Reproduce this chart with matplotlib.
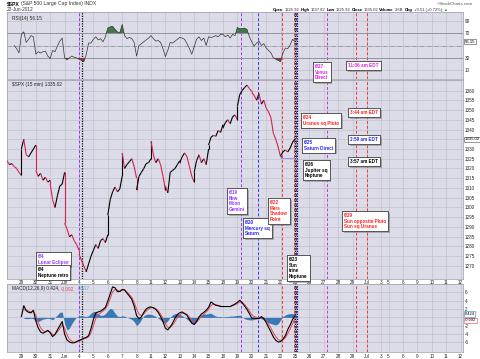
import numpy as np
import matplotlib
matplotlib.use('Agg')
import matplotlib.pyplot as plt
from matplotlib.collections import LineCollection
from matplotlib import patheffects

plt.rcParams['font.family'] = ['Liberation Sans', 'DejaVu Sans']

# trading sessions on the time axis (Jul 3 was a half day)
sessions = ['2012-05-25', '2012-05-29', '2012-05-30', '2012-05-31', '2012-06-01',
            '2012-06-04', '2012-06-05', '2012-06-06', '2012-06-07', '2012-06-08',
            '2012-06-11', '2012-06-12', '2012-06-13', '2012-06-14', '2012-06-15',
            '2012-06-18', '2012-06-19', '2012-06-20', '2012-06-21', '2012-06-22',
            '2012-06-25', '2012-06-26', '2012-06-27', '2012-06-28', '2012-06-29',
            '2012-07-02', '2012-07-03', '2012-07-05', '2012-07-06', '2012-07-09',
            '2012-07-10', '2012-07-11', '2012-07-12']
half_days = ['2012-07-03']

# $SPX 15 min, read every ~65 minutes (open ... close) for each session
spx_close = [
    [1324, 1322, 1322.5, 1321, 1320, 1318, 1316.5],      # May 25
    [1330, 1335, 1327, 1326, 1328, 1330, 1332],          # May 29
    [1319, 1316, 1317.5, 1314, 1315.5, 1313, 1314],      # May 30
    [1312, 1304, 1300, 1306, 1311, 1312, 1318],          # May 31
    [1292, 1289, 1285, 1286, 1283, 1281, 1278],          # Jun 1
    [1276, 1273, 1270, 1267, 1271, 1275, 1278],          # Jun 4
    [1278, 1281, 1279, 1283, 1284, 1282, 1286],          # Jun 5
    [1296, 1304, 1308, 1310.5, 1308, 1309.5, 1316],      # Jun 6
    [1328, 1320, 1322, 1323.5, 1325, 1321, 1315],        # Jun 7
    [1309, 1316, 1318, 1320, 1322.5, 1323, 1325],        # Jun 8
    [1334, 1327, 1323, 1325, 1322, 1316, 1309],          # Jun 11
    [1311, 1307.5, 1318, 1319, 1320, 1322, 1324],        # Jun 12
    [1323, 1326, 1328, 1326, 1321, 1316, 1313],          # Jun 13
    [1318, 1324, 1327, 1323, 1325, 1322, 1330],          # Jun 14
    [1332, 1336, 1337, 1336.5, 1339.5, 1338.5, 1342.5],  # Jun 15
    [1341, 1343.5, 1345, 1343, 1346.5, 1347.5, 1345],    # Jun 18
    [1352, 1358, 1360, 1361.5, 1362.8, 1361, 1359.5],    # Jun 19
    [1359, 1357.5, 1355, 1358.5, 1353, 1355, 1351],      # Jun 20
    [1351, 1349, 1346, 1338, 1335, 1331, 1326],          # Jun 21
    [1326.5, 1328.5, 1329.5, 1328.5, 1330.5, 1333.5, 1335.02],  # Jun 22
]
jun21_low = 1325.5

# RSI(14), six readings per session
rsi = [
    [None, None, None, 50, 45, 38], [68, 72, 55, 60, 66, 64], [36, 40, 38, 40, 41, 33],
    [29, 42, 40, 49, 57, 62], [30, 27, 30, 33, 31, 30], [28, 26, 24, 35, 54, 54],
    [60, 64, 59, 61, 56, 64], [78, 80, 81, 76, 72, 70], [84, 66, 61, 63, 61, 55],
    [33, 50, 53, 56, 59, 62], [66, 61, 57, 58, 55, 45], [32, 42, 55, 54, 57, 60],
    [63, 62, 60, 53, 45, 36], [48, 60, 64, 58, 62, 50], [64, 63, 64, 66, 64, 68],
    [68, 64, 67, 62, 68, 66], [79, 77, 77, 78, 76, 64], [56, 49, 54, 57, 50, 53],
    [46, 42, 38, 30, 28, 26], [24, 38, 46, 45, 51, 60],
]
rsi_last = 56.15

# MACD(12,26,9): macd line, signal line, histogram
macd = [
    [None] * 6, [0.2, 2.8, 1.6, 1.2, 1.1, 1.7], [-0.8, -2.5, -3.5, -3.8, -3.5, -3.1],
    [-3.7, -4.6, -4.1, -3.0, -2.0, -1.0], [-4.0, -5.4, -5.9, -6.1, -6.1, -5.8],
    [-5.5, -5.3, -5.0, -4.8, -4.4, -2.7], [-0.5, 1.1, 1.3, 1.5, 1.9, 2.4],
    [3.9, 5.6, 7.3, 7.1, 6.2, 6.2], [6.7, 6.6, 5.8, 5.1, 4.3, 2.7],
    [0.4, -0.3, 0.1, 1.2, 2.0, 2.4], [2.5, 2.3, 1.9, 1.2, 0.2, -1.0],
    [-2.6, -3.0, -2.3, -1.4, -0.2, 0.7], [1.1, 1.3, 0.9, 0.5, -0.5, -1.4],
    [-1.7, -1.0, 0.1, 0.8, 1.2, 1.7], [2.4, 3.7, 3.3, 2.9, 2.8, 2.6],
    [2.6, 2.6, 2.6, 2.6, 2.9, 3.2], [3.6, 4.1, 3.5, 2.7, 1.9, 0.9],
    [-0.2, -0.2, -0.3, -0.3, 0.2, -0.3], [-1.2, -2.4, -3.5, -4.7, -5.5, -5.9],
    [-5.8, -5.2, -4.4, -2.9, -1.8, -0.5],
]
signal = [
    [None] * 6, [None, 1.8, 1.8, 1.5, 1.3, 1.4], [0.5, -1.2, -2.5, -3.2, -3.4, -3.3],
    [-3.5, -4.1, -4.1, -3.5, -2.7, -1.8], [-2.6, -4.2, -5.2, -5.7, -6.0, -5.9],
    [-5.7, -5.5, -5.2, -5.0, -4.7, -3.7], [-2.0, -0.3, 0.6, 1.1, 1.5, 2.0],
    [3.0, 4.5, 6.1, 6.7, 6.5, 6.3], [6.5, 6.5, 6.1, 5.5, 4.8, 3.6],
    [2.0, 0.8, 0.4, 0.8, 1.5, 2.0], [2.3, 2.3, 2.1, 1.6, 0.8, -0.2],
    [-1.5, -2.4, -2.4, -1.9, -1.0, -0.1], [0.6, 1.0, 1.0, 0.7, 0.1, -0.7],
    [-1.2, -1.1, -0.5, 0.3, 0.8, 1.3], [1.9, 2.9, 3.1, 3.0, 2.9, 2.7],
    [2.6, 2.6, 2.6, 2.6, 2.8, 3.0], [3.3, 3.7, 3.6, 3.1, 2.4, 1.6],
    [0.6, 0.2, 0.0, -0.2, 0.0, -0.1], [-0.7, -1.6, -2.6, -3.7, -4.6, -5.3],
    [-5.6, -5.4, -4.9, -3.9, -2.8, -1.5],
]
hist = [
    [None] * 6, [None, -0.2, -0.3, -0.3, -0.2, -0.3], [-0.9, -1.0, -0.7, -0.4, -0.3, -0.2],
    [-0.3, -0.6, 0.0, 0.6, 1.2, 1.3], [-1.5, -3.0, -2.6, -1.5, -0.6, 0.1],
    [0.3, 0.4, 0.3, 0.2, 0.4, 1.0], [1.4, 1.3, 0.8, 0.5, 0.5, 0.9],
    [1.6, 2.2, 1.9, 1.0, 0.3, 0.2], [0.4, 0.3, 0.0, -0.2, -0.5, -1.0],
    [-2.0, -1.4, -0.5, 0.4, 0.7, 0.8], [0.7, 0.5, 0.2, -0.2, -0.6, -1.2],
    [-1.4, -0.8, 0.1, 0.6, 0.9, 1.0], [0.7, 0.4, 0.0, -0.4, -0.9, -1.4],
    [-1.6, -0.9, 0.2, 0.7, 0.8, 0.8], [0.9, 1.0, 0.6, 0.3, 0.2, 0.2],
    [0.1, 0.2, 0.2, 0.3, 0.3, 0.4], [0.5, 0.5, 0.1, -0.3, -0.5, -0.6],
    [-0.6, -0.5, -0.3, -0.2, -0.3, -0.6], [-1.0, -1.3, -1.5, -1.7, -1.8, -1.5],
    [-0.6, 0.2, 0.6, 0.8, 0.9, 0.9],
]
macd_last, signal_last, hist_last = 0.42, -0.3, 0.8

# astro events drawn as vertical lines (session time where each line sits)
events = [
    ('2012-06-04 09:00', '#9933ff', 'dash'),   # 6/4 lunar eclipse
    ('2012-06-04 11:00', 'black', 'dot'),      # 6/4 Neptune retro
    ('2012-06-19 11:02', '#9933ff', 'dash'),   # 6/19 new moon
    ('2012-06-20 12:18', '#3333ff', 'dash'),   # 6/20 Mercury sq Saturn
    ('2012-06-22 10:09', '#ff3333', 'dash'),   # 6/22 Mars shadow point
    ('2012-06-22 15:28', '#ff3333', 'dash'),   # 6/24 Uranus sq Pluto
    ('2012-06-22 15:55', 'black', 'dot'),      # 6/23 Sun trine Neptune
    ('2012-06-25 09:48', '#3333ff', 'dash'),   # 6/25 Saturn direct
    ('2012-06-25 10:25', 'black', 'dot'),      # 6/26 Jupiter sq Neptune
    ('2012-06-27 11:06', '#cc33cc', 'dash'),   # 6/27 Venus direct
    ('2012-06-29 11:03', '#ff3333', 'dash'),   # 6/29 Sun opposite Pluto
    ('2012-06-29 15:50', '#ff3333', 'dash'),   # 6/29 Sun sq Uranus
]

# ---------------------------------------------------------------
starts = []
pos = 0.0
for s in sessions:
    starts.append(pos)
    pos += 0.5 if s in half_days else 1.0
x_end = starts[-1] + 0.17


def chart_x(stamp):
    d, t = stamp.split()
    i = sessions.index(d)
    hh, mm = map(int, t.split(':'))
    length = 0.5 if d in half_days else 1.0
    frac = min(max((hh * 60 + mm - 570) / 390.0 / length, 0), 1)
    return starts[i] + frac * length


def flat(rows, last, per):
    xs, ys = [], []
    for d, row in enumerate(rows):
        for k, v in enumerate(row):
            xs.append(starts[d] + k / per)
            ys.append(np.nan if v is None else v)
    if last is not None:
        xs.append(starts[len(rows)])
        ys.append(last)
    return np.array(xs), np.array(ys, dtype=float)


px_x, px_y = flat(spx_close, None, 6.0)
rsi_x, rsi_y = flat(rsi, rsi_last, 6.0)
m_x, m_y = flat(macd, macd_last, 6.0)
s_x, s_y = flat(signal, signal_last, 6.0)
h_x, h_y = flat(hist, hist_last, 6.0)

tick_pos, tick_lab = [], []
for i, s in enumerate(sessions[1:], start=1):
    mon, day = s[5:7], int(s[8:])
    prev_mon = sessions[i - 1][5:7]
    tick_pos.append(starts[i])
    if mon != prev_mon:
        tick_lab.append({'06': 'Jun', '07': 'Jul'}[mon])
    else:
        tick_lab.append(str(day))

W, H = 480, 359
fig = plt.figure(figsize=(4.8, 3.59), dpi=100)
fig.patch.set_facecolor('white')


def rect(top, bottom):
    return [7 / W, 1 - bottom / H, 456 / W, (bottom - top) / H]


ax_rsi = fig.add_axes(rect(12, 79))
ax_px = fig.add_axes(rect(80, 279))
ax_macd = fig.add_axes(rect(284, 352))

for ax in (ax_rsi, ax_px, ax_macd):
    ax.set_facecolor('#dcdce8')
    ax.set_xlim(0, x_end)
    ax.set_xticks(tick_pos)
    ax.set_xticklabels(tick_lab)
    ax.yaxis.tick_right()
    ax.tick_params(length=0, labelsize=3.3, pad=1.2, colors='#222222')
    ax.grid(color='#c2c2ce', lw=0.5)
    ax.set_axisbelow(True)
    for sp in ax.spines.values():
        sp.set_color('#9a9aa8')
        sp.set_linewidth(0.5)
ax_rsi.tick_params(labelbottom=False)

# event lines
styles = {'dash': (0, (3, 2)), 'dot': (0, (1, 1))}
for stamp, c, st in events:
    for ax in (ax_rsi, ax_px, ax_macd):
        ax.axvline(chart_x(stamp), color=c, ls=styles[st],
                   lw=0.9 if st == 'dot' else 0.7, zorder=2)

box_kw = dict(boxstyle='square,pad=0.15', fc='white', lw=0.4)

# RSI panel
ax_rsi.set_ylim(-4, 104)
ax_rsi.set_yticks([10, 30, 50, 70, 90])
ax_rsi.set_yticklabels(['10', '30', '', '70', '90'])
ax_rsi.axhline(70, color='#8c8c98', lw=0.6)
ax_rsi.axhline(30, color='#8c8c98', lw=0.6)
ax_rsi.axhline(50, color='#8c8c98', lw=0.5, ls='-.')
ax_rsi.fill_between(rsi_x, rsi_y, 70, where=rsi_y > 70, interpolate=True,
                    color='#3f7a46', lw=0, zorder=3)
ax_rsi.fill_between(rsi_x, rsi_y, 30, where=rsi_y < 30, interpolate=True,
                    color='#8a3c3c', lw=0, zorder=3)
ax_rsi.plot(rsi_x, rsi_y, color='#333333', lw=0.5, zorder=4)
ax_rsi.text(1.004, rsi_last, f'{rsi_last:.2f}', transform=ax_rsi.get_yaxis_transform(),
            fontsize=3.1, va='center', ha='left', bbox=dict(ec='#444444', **box_kw))
ax_rsi.text(0.012, 0.94, 'RSI(14) 56.15', transform=ax_rsi.transAxes,
            fontsize=3.4, va='top', ha='left', color='#222222')

# price panel
ax_px.set_ylim(1263.3, 1365.4)
price_ticks = np.arange(1270, 1361, 5)
ax_px.set_yticks(price_ticks)
ax_px.set_yticklabels(['' if v == 1335 else str(v) for v in price_ticks])
ax_px.tick_params(axis='x', pad=1.0)
pts = np.column_stack([px_x, px_y])
segs = np.stack([pts[:-1], pts[1:]], axis=1)
cols = ['black' if b >= a else '#d8204f' for a, b in zip(px_y[:-1], px_y[1:])]
ax_px.add_collection(LineCollection(segs, colors=cols, linewidths=0.8, zorder=4))
ax_px.hlines(jun21_low, starts[18] + 0.95, starts[20], color='#8888ee', lw=0.6, zorder=3)
ax_px.text(1.004, spx_close[-1][-1], f'{spx_close[-1][-1]:.2f}',
           transform=ax_px.get_yaxis_transform(), fontsize=3.1, va='center', ha='left',
           bbox=dict(ec='#444444', **box_kw))
ax_px.text(0.012, 0.992, '$SPX (15 min) 1335.02', transform=ax_px.transAxes,
           fontsize=3.4, va='top', ha='left', color='#222222')

# MACD panel
ax_macd.set_ylim(-8.3, 8.0)
ax_macd.set_yticks([-6, -4, -2, 0, 2, 4, 6])
ax_macd.set_yticklabels(['-6', '-4', '-2', '', '2', '4', '6'])
ax_macd.fill_between(h_x, 0, h_y, color='#3a78b4', lw=0, zorder=3)
ax_macd.plot(s_x, s_y, color='#ee4455', lw=0.7, zorder=4)
ax_macd.plot(m_x, m_y, color='black', lw=0.8, zorder=5)
for v, txt, ec in ((0.8, '0.424', '#3a78b4'), (-0.7, '-0.092', '#ee4455')):
    ax_macd.text(1.004, v, txt, transform=ax_macd.get_yaxis_transform(), fontsize=2.9,
                 va='center', ha='left', bbox=dict(ec=ec, **box_kw))

# overlay for header texts and annotation boxes
ov = fig.add_axes([0, 0, 1, 1], zorder=10)
ov.set_xlim(0, W)
ov.set_ylim(H, 0)
ov.axis('off')


def chain(x, y, parts, fs, gap=1.2):
    prev = ov.text(x, y, parts[0][0], color=parts[0][1], fontweight=parts[0][2],
                   fontsize=fs, va='baseline', ha='left')
    for s, c, w in parts[1:]:
        prev = ov.annotate(s, xy=(1, 0), xycoords=prev, xytext=(gap, 0),
                           textcoords='offset points', color=c, fontweight=w,
                           fontsize=fs, va='bottom', ha='left')
    return prev


chain(7, 5.5, [('$SPX', 'black', 'bold'),
               ('(S&P 500 Large Cap Index) INDX', '#333333', 'normal')], 3.6)
ov.text(7, 11, '22-Jun-2012', fontsize=3.4, va='baseline', ha='left', color='#333333')
ov.text(473, 5, '\u00a9StockCharts.com', fontsize=3.2, va='baseline', ha='right',
        color='#555555')
chain(273, 11, [('Open', 'black', 'bold'), ('1325.92', '#333333', 'normal'),
                ('High', 'black', 'bold'), ('1337.82', '#333333', 'normal'),
                ('Low', 'black', 'bold'), ('1325.92', '#333333', 'normal'),
                ('Close', 'black', 'bold'), ('1335.02', '#333333', 'normal'),
                ('Volume', 'black', 'bold'), ('2.6B', '#333333', 'normal'),
                ('Chg', 'black', 'bold'), ('+9.51 (+0.72%)', '#333333', 'normal'),
                ('\u25b2', '#22aa22', 'normal')], 3.0, gap=0.8)
chain(12, 290, [('MACD(12,26,9) 0.424,', '#222222', 'normal'),
                ('-0.092,', '#ee4455', 'normal'),
                ('0.517', '#5aa0d8', 'normal')], 3.4)

notes = [
    (38, 254, '6/4\nLunar Eclipse', '#9933ff'),
    (38, 267, '6/4\nNeptune retro', 'black'),
    (229, 190, '6/19\nNew\nMoon\nGemini', '#9933ff'),
    (245, 220, '6/20\nMercury sq\nSaturn', '#2222ee'),
    (270, 200, '6/22\nMars\nShadow\nPoint', '#ff2222'),
    (289, 257, '6/23\nSun\ntrine\nNeptune', 'black'),
    (303, 115, '6/24\nUranus sq Pluto', '#ff2222'),
    (304, 140, '6/25\nSaturn Direct', '#2222ee'),
    (305, 162, '6/26\nJupiter sq\nNeptune', 'black'),
    (350, 110, '3:44 am EDT', '#ff2222'),
    (350, 137, '2:59 am EDT', '#2222ee'),
    (350, 159, '3:57 am EDT', 'black'),
    (315, 64, '6/27\nVenus\nDirect', '#dd22dd'),
    (348, 63, '11:06 am EDT', '#dd22dd'),
    (344, 213, '6/29\nSun opposite Pluto\nSun sq Uranus', '#ff2222'),
]
for x, y, txt, c in notes:
    t = ov.text(x, y, txt, color=c, fontsize=3.3, fontweight='bold', va='top', ha='left',
                linespacing=1.15,
                bbox=dict(boxstyle='square,pad=0.45', fc='white', ec='#333333', lw=0.5))
    t.get_bbox_patch().set_path_effects([patheffects.withSimplePatchShadow(
        offset=(1.2, -1.2), shadow_rgbFace='#777777', alpha=0.5), patheffects.Normal()])

fig.savefig('out.png', dpi=100, facecolor='white')
